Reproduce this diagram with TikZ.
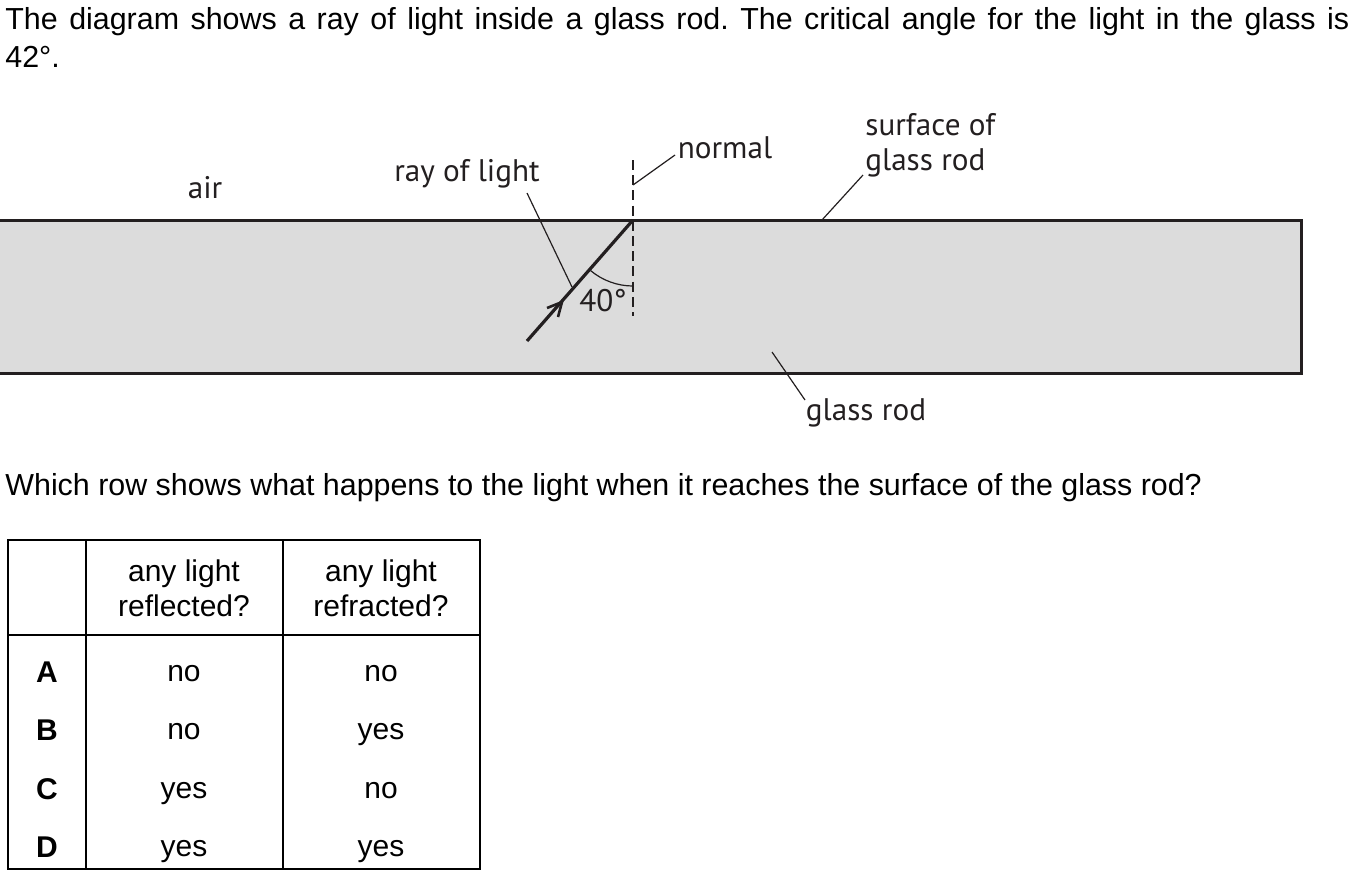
\documentclass[tikz,border=0pt]{standalone}
\usepackage{fontspec}
\setmainfont{Liberation Sans}
\newfontfamily\lab{PT Sans}
\usetikzlibrary{arrows.meta,calc}
\definecolor{glass}{HTML}{DCDCDC}
\definecolor{ink}{HTML}{231F20}
\frenchspacing
\begin{document}
\begin{tikzpicture}[x=0.5pt,y=-0.5pt,
  txt/.style={inner sep=0pt,font=\fontsize{15.2pt}{18pt}\selectfont},
  lbl/.style={inner sep=0pt,font=\lab\fontsize{15.6pt}{17.5pt}\selectfont,text=ink,align=left},
  lead/.style={draw=ink,line width=0.6pt},
  tline/.style={line width=1pt,draw=black},
  cell/.style={inner sep=0pt,font=\fontsize{15pt}{17.5pt}\selectfont,align=center}]
\useasboundingbox (0,0) rectangle (1355,880);
% question text
\node[txt,anchor=west] (q1) at (5,22) {\frenchspacing\makebox[672pt][s]{The diagram shows a ray of light inside a glass rod. The critical angle for the light in the glass is}};
\node[txt,anchor=west] (q2) at (5,57) {42\textdegree.};
\node[txt,anchor=west] (q3) at (5,488) {Which row shows what happens to the light when it reaches the surface of the glass rod?};
% rod
\path[fill=glass] (-5,220) rectangle (1301,373);
\draw[draw=ink,line width=1.5pt] (-5,220) -- (1301,220) -- (1301,373) -- (-5,373);
% normal
\coordinate (P) at (633,220);
\coordinate (ntop) at (633,160);
\coordinate (nbot) at (633,316);
\draw[draw=ink,line width=0.8pt,dash pattern=on 5pt off 2.6pt] (ntop) -- (nbot);
% ray
\coordinate (rs) at (527,341);
\draw[draw=ink,line width=1.6pt] (rs) -- (P);
\coordinate (ah) at (562,302);
\draw[draw=ink,line width=1.3pt] ($(ah)+(-15,6)$) -- (ah) -- ($(ah)+(-4,15)$);
% angle arc
\draw[draw=ink,line width=0.6pt] (P) ++(130:66) arc[start angle=130,end angle=90,radius=66];
\node[lbl] (ang) at (603,301) {40\textdegree};
% labels
\node[lbl] (air) at (205,188) {air};
\node[lbl] (ray) at (467,174) {ray of light};
\node[lbl] (nor) at (725,148) {normal};
\node[lbl,anchor=west] (surf) at (865,145) {surface of\\glass rod};
\node[lbl] (gr) at (866,413) {glass rod};
\coordinate (rayend) at (572,287);
\coordinate (norend) at (633,185);
\coordinate (surfend) at (822,220);
\coordinate (grend) at (772,352);
\draw[lead] (527,193) -- (rayend);
\draw[lead] (675,155) -- (norend);
\draw[lead] (863,175) -- (surfend);
\draw[lead] (805,400) -- (grend);
% table
\draw[tline] (8,540) rectangle (480,869);
\draw[tline] (86,540) -- (86,869);
\draw[tline] (283,540) -- (283,869);
\draw[tline] (8,635) -- (480,635);
\node[cell] (h1) at (184,588) {any light\\reflected?};
\node[cell] (h2) at (381,588) {any light\\refracted?};
\foreach \l/\a/\b/\y in {A/no/no/672,B/no/yes/730,C/yes/no/789,D/yes/yes/847}{
  \node[cell,font=\bfseries\fontsize{15pt}{17.5pt}\selectfont] (L\l) at (47,\y) {\l};
  \node[cell] (R\l) at (184,\y+2) {\strut\a};
  \node[cell] (F\l) at (381,\y+2) {\strut\b};
}
\end{tikzpicture}
\end{document}
